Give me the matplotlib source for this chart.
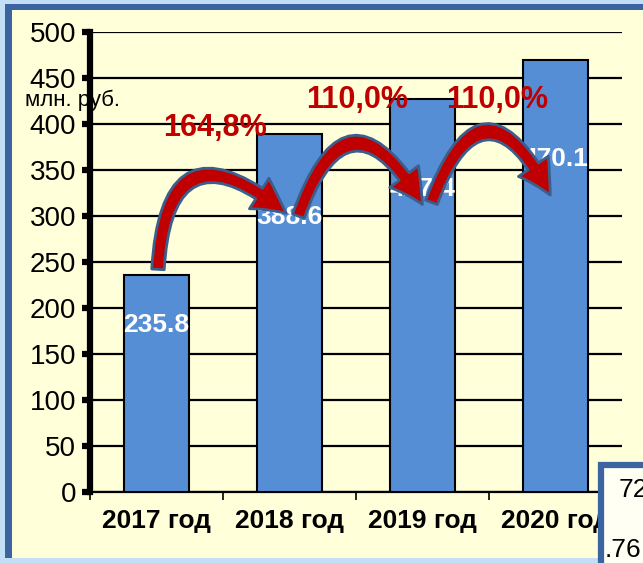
import matplotlib
matplotlib.use("Agg")
import matplotlib.pyplot as plt
from matplotlib.patches import Rectangle, FancyArrowPatch

# data
years = ["2017 год", "2018 год", "2019 год", "2020 год"]
values = [235.8, 388.6, 427.4, 470.1]
yticks = [0, 50, 100, 150, 200, 250, 300, 350, 400, 450, 500]

# arrow ends (x offset from bar index, value)
arrow_start = [(0.01, 239), (1.06, 297), (2.06, 312)]
arrow_end = [(0.99, 301), (2.01, 310), (2.97, 320)]
arrow_rad = [-1.0, -1.1, -1.15]
pct_pos = [(0.44, 396), (1.51, 426), (2.56, 426)]

W, H = 643, 563
plt.rcParams["font.family"] = ["Liberation Sans", "DejaVu Sans"]


def px(x, y):
    return (x / W, 1 - y / H)


fig = plt.figure(figsize=(W / 100, H / 100), dpi=100)
fig.patch.set_facecolor("#c3dff5")

# slide frame
fig.add_artist(Rectangle(px(5, 558), (W - 5) / W, (558 - 4) / H,
                         transform=fig.transFigure, facecolor="#3c64a0",
                         edgecolor="none", zorder=0))
fig.add_artist(Rectangle(px(12, 558), (W - 12) / W, (558 - 10) / H,
                         transform=fig.transFigure, facecolor="#ffffd9",
                         edgecolor="none", zorder=0))

ax = fig.add_axes([90 / W, (H - 492) / H, 532 / W, 460 / H])
ax.set_facecolor("none")
ax.set_zorder(1)

x = list(range(len(years)))
ax.bar(x, values, width=0.49, color="#558ed5", edgecolor="black",
       linewidth=1.5, zorder=3)

for i, v in enumerate(values):
    ax.text(i, v * 0.77, f"{v:.1f}", ha="center", va="center",
            color="white", fontsize=19, fontweight="bold", zorder=4)

ax.set_xlim(-0.5, 3.5)
ax.set_ylim(0, 500)
ax.set_yticks(yticks)
ax.set_yticklabels([str(t) for t in yticks], fontsize=20)
ax.set_xticks(x)
ax.set_xticklabels(years, fontsize=19, fontweight="bold")
ax.set_xticks([-0.5, 0.5, 1.5, 2.5, 3.5], minor=True)
ax.tick_params(axis="x", which="major", length=0, pad=12)
ax.tick_params(axis="x", which="minor", length=6, width=1.2, color="black")
ax.tick_params(axis="y", length=6, width=4.5, color="black", pad=4)

ax.yaxis.grid(True, color="black", linewidth=1.6, zorder=1)
ax.set_axisbelow(True)
for s in ["top", "right"]:
    ax.spines[s].set_visible(False)
ax.spines["left"].set_linewidth(4.5)
ax.spines["bottom"].set_linewidth(1.6)

# growth arrows and percentages
for k in range(3):
    a = FancyArrowPatch(arrow_start[k], arrow_end[k],
                        connectionstyle=f"arc3,rad={arrow_rad[k]}",
                        arrowstyle="simple,head_width=26,head_length=24,tail_width=9",
                        mutation_scale=1, facecolor="#c00000",
                        edgecolor="#3b5e8c", linewidth=2, zorder=5)
    ax.add_patch(a)
    pct = values[k + 1] / values[k] * 100
    ax.text(pct_pos[k][0], pct_pos[k][1], f"{pct:.1f}%".replace(".", ","),
            ha="center", va="center", color="#c00000", fontsize=22,
            fontweight="bold", zorder=6)

fig.text(*px(25, 100), "млн. руб.", fontsize=16, ha="left", va="center",
         zorder=10)

# piece of another slide element, bottom right
fig.add_artist(Rectangle(px(601, 575), 60 / W, (575 - 465) / H,
                         transform=fig.transFigure, facecolor="#fffff4",
                         edgecolor="#3c64a0", linewidth=4.5, zorder=20))
fig.text(*px(619, 490), "72", fontsize=19, ha="left", va="center", zorder=21)
fig.text(*px(605, 550), ".76", fontsize=19, ha="left", va="center", zorder=21)

fig.savefig("out.png", dpi=100, facecolor=fig.get_facecolor())
